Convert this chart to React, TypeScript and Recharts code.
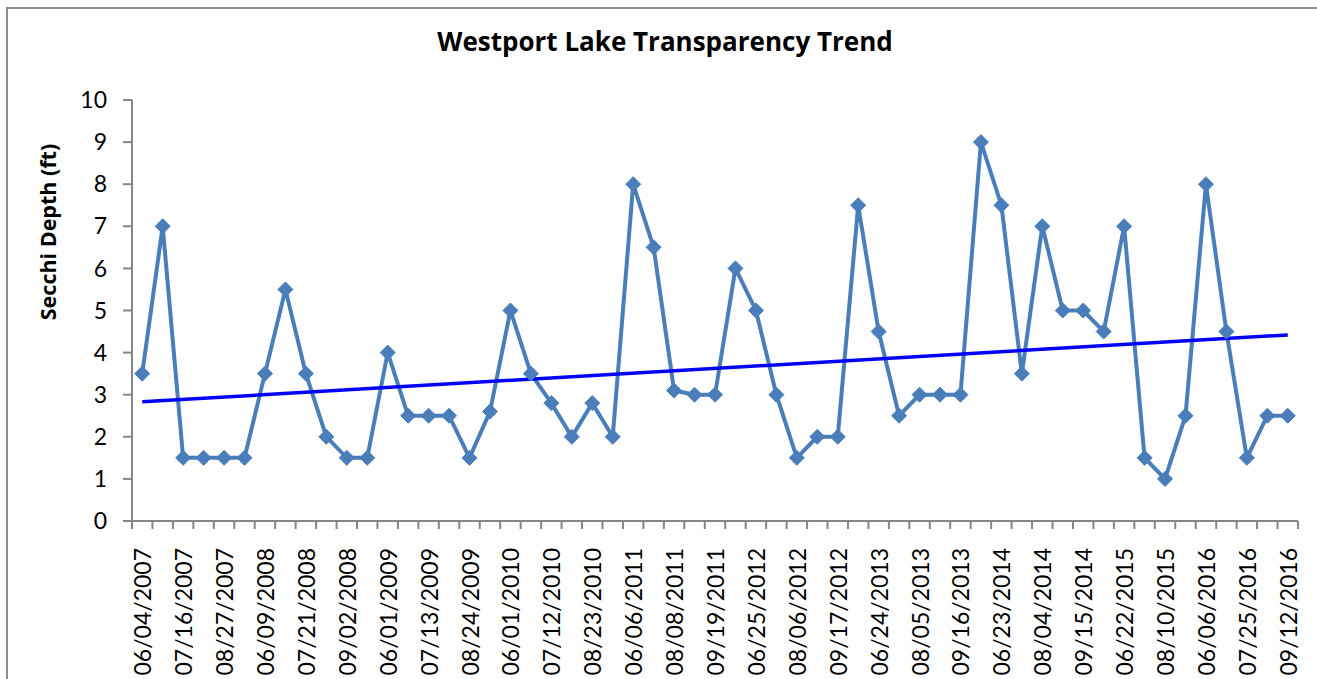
import React from "react";
import { LineChart, Line, XAxis, YAxis } from "recharts";

// ── Data ────────────────────────────────────────────────────────────────────

// every other sampling date is printed on the axis
const shownDates = [
  "06/04/2007", "07/16/2007", "08/27/2007", "06/09/2008", "07/21/2008", "09/02/2008",
  "06/01/2009", "07/13/2009", "08/24/2009", "06/01/2010", "07/12/2010", "08/23/2010",
  "06/06/2011", "08/08/2011", "09/19/2011", "06/25/2012", "08/06/2012", "09/17/2012",
  "06/24/2013", "08/05/2013", "09/16/2013", "06/23/2014", "08/04/2014", "09/15/2014",
  "06/22/2015", "08/10/2015", "06/06/2016", "07/25/2016", "09/12/2016",
];

const secchiDepth = [
  3.5, 7, 1.5, 1.5, 1.5, 1.5, 3.5, 5.5, 3.5, 2, 1.5, 1.5, 4, 2.5, 2.5, 2.5, 1.5, 2.6,
  5, 3.5, 2.8, 2, 2.8, 2, 8, 6.5, 3.1, 3, 3, 6, 5, 3, 1.5, 2, 2, 7.5, 4.5, 2.5, 3, 3,
  3, 9, 7.5, 3.5, 7, 5, 5, 4.5, 7, 1.5, 1, 2.5, 8, 4.5, 1.5, 2.5, 2.5,
];

// linear trend line, read at first and last sample
const trendStart = 2.83;
const trendEnd = 4.42;

const yTicks = [0, 1, 2, 3, 4, 5, 6, 7, 8, 9, 10];

const data = secchiDepth.map((v, i) => ({
  i,
  depth: v,
  trend: i === 0 ? trendStart : i === secchiDepth.length - 1 ? trendEnd : null,
}));

// ── Layout ──────────────────────────────────────────────────────────────────

const W = 1317;
const H = 679;
const PLOT_LEFT = 132;
const PLOT_RIGHT = 1298;
const PLOT_TOP = 100;
const PLOT_BOTTOM = 521;
const HALF_BAND = (PLOT_RIGHT - PLOT_LEFT) / secchiDepth.length / 2;

const FONT = "Lato, 'Open Sans', sans-serif";
const BOLD_FONT = "'Open Sans', Lato, sans-serif";
const AXIS = "#868686";
const SERIES = "#4a7ebb";

function Diamond(props: any) {
  const { cx, cy } = props;
  if (cx == null || cy == null) return null;
  const r = 7.5;
  return (
    <polygon
      points={`${cx},${cy - r} ${cx + r},${cy} ${cx},${cy + r} ${cx - r},${cy}`}
      fill={SERIES}
      stroke={SERIES}
      strokeWidth={1}
    />
  );
}

function DateTick(props: any) {
  const { x, y, payload } = props;
  const i = payload.value as number;
  const last = i === secchiDepth.length - 1;
  return (
    <g>
      <line x1={x - HALF_BAND} y1={PLOT_BOTTOM} x2={x - HALF_BAND} y2={PLOT_BOTTOM + 8} stroke={AXIS} strokeWidth={2} />
      {last && (
        <line x1={x + HALF_BAND} y1={PLOT_BOTTOM} x2={x + HALF_BAND} y2={PLOT_BOTTOM + 8} stroke={AXIS} strokeWidth={2} />
      )}
      {i % 2 === 0 && (
        <text
          transform={`translate(${x + 9},${y + 19}) rotate(-90)`}
          textAnchor="end"
          fontSize={23}
          fontFamily={FONT}
          fill="#000"
        >
          {shownDates[i / 2]}
        </text>
      )}
    </g>
  );
}

export default function App() {
  return (
    <div style={{ position: "absolute", left: 0, top: 0, width: W, height: H, background: "#fff", overflow: "hidden" }}>
      <div
        style={{
          position: "absolute",
          left: 6,
          top: 7,
          width: W + 50,
          height: H + 50,
          borderLeft: "2px solid #8e8e8e",
          borderTop: "2px solid #8e8e8e",
        }}
      />
      <LineChart
        width={W}
        height={H}
        data={data}
        margin={{ top: PLOT_TOP, right: W - PLOT_RIGHT, bottom: 0, left: PLOT_LEFT - 60 }}
        style={{ position: "absolute", left: 0, top: 0 }}
      >
        <XAxis
          dataKey="i"
          type="category"
          interval={0}
          height={H - PLOT_BOTTOM}
          padding={{ left: HALF_BAND, right: HALF_BAND }}
          stroke={AXIS}
          strokeWidth={2}
          tickLine={false}
          tick={<DateTick />}
        />
        <YAxis
          width={60}
          domain={[0, 10]}
          ticks={yTicks}
          interval={0}
          stroke={AXIS}
          strokeWidth={2}
          tickSize={9}
          tickMargin={16}
          tick={{ fontSize: 23, fontFamily: FONT, fill: "#000" }}
        />
        <Line
          dataKey="depth"
          stroke={SERIES}
          strokeWidth={4}
          dot={<Diamond />}
          activeDot={false}
          isAnimationActive={false}
        />
        <Line
          dataKey="trend"
          stroke="#0000ff"
          strokeWidth={3.5}
          dot={false}
          activeDot={false}
          connectNulls
          isAnimationActive={false}
        />
      </LineChart>
      <svg width={W} height={H} style={{ position: "absolute", left: 0, top: 0, pointerEvents: "none" }}>
        <text x={665} y={51} textAnchor="middle" fontSize={26} fontWeight="bold" fontFamily={BOLD_FONT} fill="#000">
          Westport Lake Transparency Trend
        </text>
        <text
          transform="translate(56,232) rotate(-90)"
          textAnchor="middle"
          fontSize={21.5}
          fontWeight="bold"
          fontFamily={BOLD_FONT}
          fill="#000"
        >
          Secchi Depth (ft)
        </text>
      </svg>
    </div>
  );
}
